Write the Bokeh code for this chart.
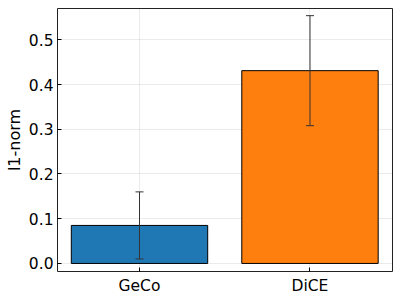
from bokeh.plotting import figure
from bokeh.models import Range1d, FixedTicker, Whisker, ColumnDataSource, NumeralTickFormatter
from bokeh.embed import file_html
from bokeh.resources import INLINE

methods = ["GeCo", "DiCE"]
means = [0.085, 0.431]
errs = [0.075, 0.123]
colors = ["#1f77b4", "#ff7f0e"]
yticks = [0.0, 0.1, 0.2, 0.3, 0.4, 0.5]

xs = [1, 2]
src = ColumnDataSource(dict(
    x=xs, top=means, color=colors,
    lower=[m - e for m, e in zip(means, errs)],
    upper=[m + e for m, e in zip(means, errs)],
))

p = figure(width=400, height=300, output_backend="svg", toolbar_location=None,
           x_range=Range1d(0.519, 2.484), y_range=Range1d(-0.018, 0.570),
           min_border_left=57, min_border_top=8, min_border_right=8, min_border_bottom=29)

p.vbar(x="x", top="top", bottom=0, width=0.8, fill_color="color", line_color="black",
       line_width=1, source=src)
w = Whisker(base="x", lower="lower", upper="upper", source=src, line_color="#333333",
            line_width=1, level="overlay")
w.upper_head.size = 8
w.lower_head.size = 8
w.upper_head.line_color = "#333333"
w.lower_head.line_color = "#333333"
p.add_layout(w)

p.xaxis.ticker = FixedTicker(ticks=xs)
p.xaxis.major_label_overrides = {1: methods[0], 2: methods[1]}
p.yaxis.ticker = FixedTicker(ticks=yticks)
p.yaxis.formatter = NumeralTickFormatter(format="0.0")
p.yaxis.axis_label = "l1-norm"

for ax in [p.xaxis[0], p.yaxis[0]]:
    ax.major_tick_in = 4
    ax.major_tick_out = 0
    ax.minor_tick_in = 0
    ax.minor_tick_out = 0
    ax.axis_line_color = None
    ax.major_tick_line_color = "black"
    ax.major_label_text_font = "DejaVu Sans"
    ax.major_label_text_font_size = "15.5px"
    ax.major_label_text_color = "black"
    ax.axis_label_text_font = "DejaVu Sans"
    ax.axis_label_text_font_style = "normal"
    ax.axis_label_text_font_size = "16px"
    ax.axis_label_text_color = "black"

p.xaxis.major_label_standoff = 5
p.yaxis.major_label_standoff = 4
p.yaxis.axis_label_standoff = 2

p.xgrid.grid_line_color = "black"
p.xgrid.grid_line_alpha = 0.08
p.ygrid.grid_line_color = "black"
p.ygrid.grid_line_alpha = 0.08
p.outline_line_color = "#222222"
p.outline_line_width = 1
p.outline_line_alpha = 1

open("out.html", "w").write(file_html(p, INLINE))
